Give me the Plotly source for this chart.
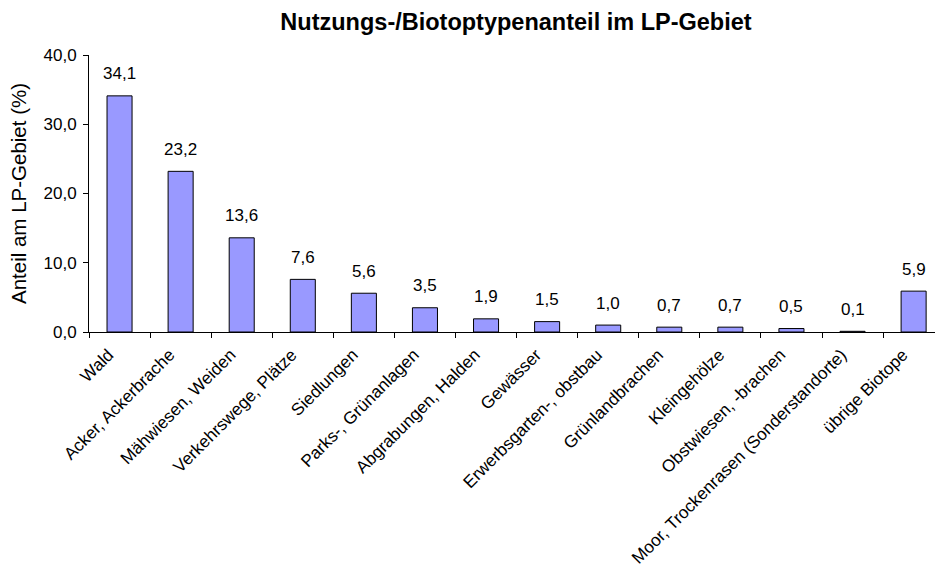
import plotly.graph_objects as go

categories = ["Wald", "Acker, Ackerbrache", "Mähwiesen, Weiden", "Verkehrswege, Plätze",
              "Siedlungen", "Parks-, Grünanlagen", "Abgrabungen, Halden", "Gewässer",
              "Erwerbsgarten-, obstbau", "Grünlandbrachen", "Kleingehölze",
              "Obstwiesen, -brachen", "Moor, Trockenrasen (Sonderstandorte)", "übrige Biotope"]
values = [34.1, 23.2, 13.6, 7.6, 5.6, 3.5, 1.9, 1.5, 1.0, 0.7, 0.7, 0.5, 0.1, 5.9]
labels = ["34,1", "23,2", "13,6", "7,6", "5,6", "3,5", "1,9", "1,5", "1,0", "0,7", "0,7", "0,5", "0,1", "5,9"]
yticks = [0, 10, 20, 30, 40]

FONT = "Liberation Sans, Arial, sans-serif"

fig = go.Figure()
fig.add_trace(go.Bar(
    x=list(range(len(categories))), y=values,
    marker=dict(color="#9999FF", line=dict(color="black", width=1)),
    width=0.41, hoverinfo="skip",
))

for i, (v, t) in enumerate(zip(values, labels)):
    fig.add_annotation(x=i, y=v, text=t, showarrow=False, yanchor="middle", yshift=22,
                       font=dict(size=17, color="black", family=FONT))

fig.update_layout(
    width=935, height=572,
    margin=dict(l=89, r=0, t=55, b=239.5, autoexpand=False),
    plot_bgcolor="white", paper_bgcolor="white",
    separators=",.",
    showlegend=False,
    font=dict(family=FONT, color="black", size=17),
    title=dict(text="<b>Nutzungs-/Biotoptypenanteil im LP-Gebiet</b>",
               x=516/935, xanchor="center", y=1-22/572, yanchor="middle",
               xref="container",
               font=dict(size=23.5, family=FONT, color="black")),
)
fig.update_xaxes(
    tickmode="array", tickvals=list(range(len(categories))), ticktext=categories,
    range=[-0.5, 13.35], tickangle=-45, automargin=False,
    ticklabelshift=-11, ticklabelstandoff=5,
    showline=True, linecolor="black", linewidth=1,
    ticks="", showgrid=False, zeroline=False,
    tickfont=dict(size=17.2, family=FONT, color="black"),
)
fig.update_yaxes(
    range=[0, 40], tickvals=yticks, tickformat=".1f", automargin=False,
    ticklabelstandoff=3,
    showline=True, linecolor="black", linewidth=1,
    ticks="outside", ticklen=5, tickcolor="black",
    showgrid=False, zeroline=False,
    tickfont=dict(size=17, family=FONT, color="black"),
    title=dict(text="Anteil am LP-Gebiet (%)", font=dict(size=20.5, family=FONT, color="black"), standoff=11),
)
# ticks at category boundaries using an overlaying axis
fig.update_layout(xaxis2=dict(overlaying="x", range=[-0.5, 13.35], tickmode="array",
                              tickvals=[k - 0.5 for k in range(14)], ticktext=[""] * 14,
                              ticks="outside", ticklen=5, tickcolor="black", side="bottom",
                              showgrid=False, zeroline=False, showline=False, automargin=False))
fig.add_trace(go.Scatter(x=[0], y=[0], xaxis="x2", mode="markers", marker=dict(opacity=0),
                         hoverinfo="skip", showlegend=False))

fig.write_html("out.html", config={"displayModeBar": False},
               post_script="document.body.style.margin='0';document.body.style.overflow='hidden';")
